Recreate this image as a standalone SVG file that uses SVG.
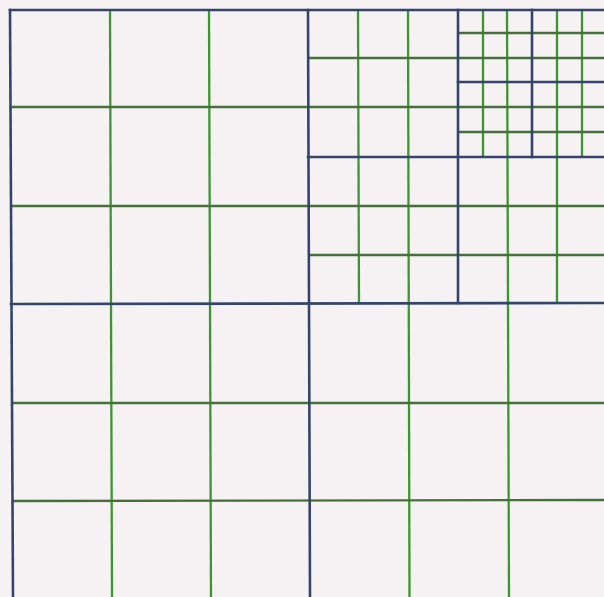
<svg xmlns="http://www.w3.org/2000/svg" width="604" height="597" viewBox="0 0 604 597">
<style>
.b{stroke:#34456a;stroke-width:2.6;fill:none;stroke-linecap:square}
.g{stroke:#3c9630;stroke-width:2.3;fill:none}
.h{stroke:#45703a;stroke-width:2.3;fill:none}
</style>
<rect x="0" y="0" width="604" height="597" fill="#f6f2f4"/>
<g id="green-vertical">
<line class="g" x1="110" y1="10" x2="112" y2="597"/>
<line class="g" x1="209" y1="10" x2="211" y2="597"/>
<line class="g" x1="358" y1="10" x2="359" y2="303"/>
<line class="g" x1="408" y1="10" x2="409.5" y2="597"/>
<line class="g" x1="483" y1="10" x2="483" y2="157"/>
<line class="g" x1="507" y1="10" x2="509" y2="597"/>
<line class="g" x1="557" y1="10" x2="557" y2="303"/>
<line class="g" x1="582" y1="10" x2="582" y2="157"/>
</g>
<g id="green-horizontal">
<line class="h" x1="458" y1="33" x2="604" y2="33"/>
<line class="h" x1="308" y1="58" x2="604" y2="58"/>
<line class="h" x1="10" y1="107" x2="604" y2="107"/>
<line class="h" x1="458" y1="132" x2="604" y2="132"/>
<line class="h" x1="10" y1="206" x2="604" y2="206"/>
<line class="h" x1="308" y1="255" x2="604" y2="255"/>
<line class="h" x1="12" y1="403" x2="604" y2="403"/>
<line class="h" x1="12" y1="501" x2="604" y2="500"/>
</g>
<g id="blue-lines">
<line class="b" x1="10" y1="10" x2="604" y2="10"/>
<line class="b" x1="10" y1="10" x2="13" y2="597"/>
<line class="b" x1="308" y1="10" x2="310" y2="597"/>
<line class="b" x1="11" y1="304" x2="604" y2="303"/>
<line class="b" x1="458" y1="10" x2="458" y2="303"/>
<line class="b" x1="308" y1="157" x2="604" y2="157"/>
<line class="b" x1="532" y1="10" x2="532" y2="157"/>
<line class="b" x1="458" y1="82" x2="604" y2="82"/>
</g>
</svg>
